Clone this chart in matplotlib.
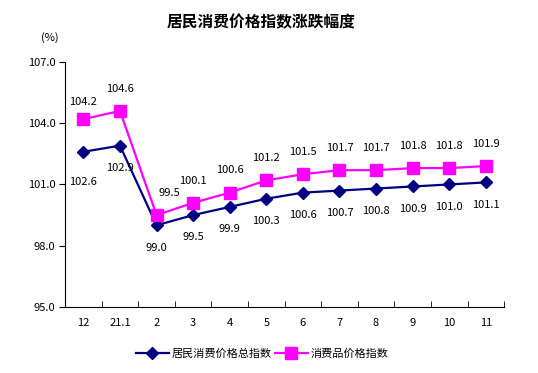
import matplotlib.pyplot as plt

plt.rcParams['font.family'] = ['Noto Sans CJK SC', 'DejaVu Sans']

months = ['12', '21.1', '2', '3', '4', '5', '6', '7', '8', '9', '10', '11']
cpi_total = [102.6, 102.9, 99.0, 99.5, 99.9, 100.3, 100.6, 100.7, 100.8, 100.9, 101.0, 101.1]
cpi_goods = [104.2, 104.6, 99.5, 100.1, 100.6, 101.2, 101.5, 101.7, 101.7, 101.8, 101.8, 101.9]

fig = plt.figure(figsize=(5.38, 3.73), dpi=100)
ax = fig.add_axes([0.121, 0.177, 0.816, 0.657])
x = list(range(len(months)))

ax.plot(x, cpi_total, color='#000080', marker='D', markersize=6, lw=1.6,
        label='居民消费价格总指数')
ax.plot(x, cpi_goods, color='#FF00FF', marker='s', markersize=8.5, lw=1.6,
        label='消费品价格指数')

# label offsets in points (a few were nudged by hand in the original)
for i, v in enumerate(cpi_total):
    dy = -22 if i == 0 else -16
    ax.annotate(f'{v:.1f}', (i, v), xytext=(0, dy), textcoords='offset points',
                ha='center', va='center', fontsize=8)
for i, v in enumerate(cpi_goods):
    dx = 9 if i == 2 else 0
    dy = 12 if i == 0 else 16
    ax.annotate(f'{v:.1f}', (i, v), xytext=(dx, dy), textcoords='offset points',
                ha='center', va='center', fontsize=8)

ax.set_xlim(-0.5, len(months) - 0.5)
ax.set_ylim(95, 107)
ax.set_yticks([95, 98, 101, 104, 107])
ax.set_yticklabels([f'{t:.1f}' for t in [95, 98, 101, 104, 107]], fontsize=8)
ax.set_xticks(x)
ax.set_xticklabels(months, fontsize=8)
ax.tick_params(axis='x', length=0, pad=8)
ax.set_xticks([i + 0.5 for i in x], minor=True)
ax.tick_params(axis='x', which='minor', direction='in', length=4)
ax.tick_params(axis='y', direction='out', length=4, pad=3)
for s in ['top', 'right']:
    ax.spines[s].set_visible(False)

fig.text(0.485, 0.94, '居民消费价格指数涨跌幅度', ha='center', va='center',
         fontsize=11.3, fontweight='bold')
fig.text(0.093, 0.9, '(%)', ha='center', va='center', fontsize=8)

fig.legend(loc='center', bbox_to_anchor=(0.487, 0.053), ncol=2, frameon=False,
           fontsize=8, handlelength=3, columnspacing=0.3, handletextpad=0.2)

fig.savefig('out.png', dpi=100)
